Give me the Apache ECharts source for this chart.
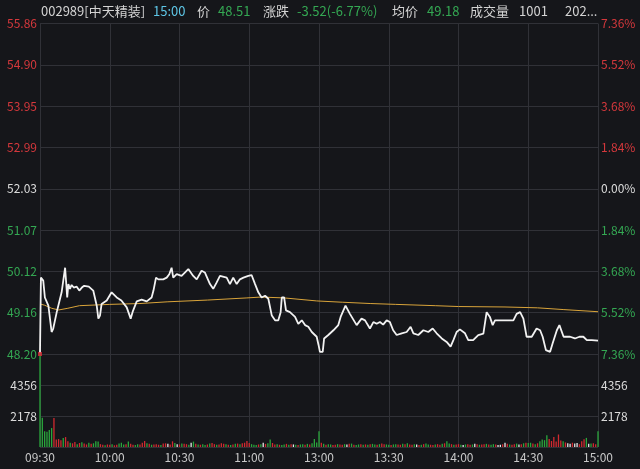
<!DOCTYPE html>
<html>
<head>
<meta charset="utf-8">
<script src="https://cdn.jsdelivr.net/npm/echarts@6/dist/echarts.min.js"></script>
<style>
html,body{margin:0;padding:0;background:#15161a;}
#c{width:640px;height:469px;}
</style>
</head>
<body>
<div id="c"></div>
<script>
// ---- data ----
const timeLabels = ['09:30','10:00','10:30','11:00','13:00','13:30','14:00','14:30','15:00'];
const priceTicks = ['48.20','49.16','50.12','51.07','52.03','52.99','53.95','54.90','55.86'];
const pctTicks = ['7.36%','5.52%','3.68%','1.84%','0.00%','1.84%','3.68%','5.52%','7.36%'];
const volTicks = [0, 2178, 4356, 6534];

const priceMinutes = [0,0.4,1.4,2.1,3.6,5.0,5.7,7.2,9.3,10.8,11.5,11.7,12.2,12.9,13.6,14.5,15.8,16.9,18.0,19.0,21.0,22.9,24.4,25.1,25.8,26.5,28.7,30.8,33.0,35.0,37.3,39.0,40.0,41.6,43.7,45.9,48.0,48.8,49.9,50.9,53.0,54.5,55.6,56.6,57.3,58.8,60.9,62.4,63.8,65.9,67.4,69.5,70.9,73.1,74.5,76.0,77.4,80.3,81.7,83.1,84.6,86.0,87.5,89.6,91.0,92.5,93.9,95.3,96.8,98.2,98.9,99.7,101.1,102.5,103.5,104.0,105.0,105.8,107.5,109.7,111.1,112.6,114.0,115.4,116.9,119.0,119.8,120.4,121.6,122.2,124.0,126.2,128.3,129.3,131.4,133.3,136.2,138.3,139.8,141.9,143.4,144.8,146.2,147.6,149.1,150.5,151.9,153.4,155.6,157.7,159.4,160.6,162.7,164.9,167.0,168.9,170.6,172.8,174.9,176.6,177.8,179.2,180.6,182.8,184.2,186.3,188.5,190.7,192.1,193.5,194.7,195.7,203.6,205.0,206.5,207.9,209.3,211.5,213.6,215.1,216.2,217.6,219.4,220.5,222.3,223.4,225.2,228.0,230.1,232.0,233.7,235.2,237.3,240.0];
const priceValues = [48.22,49.97,49.90,49.51,49.32,48.71,48.79,49.17,49.63,50.20,50.18,49.51,49.82,49.71,49.80,49.74,49.76,49.67,49.74,49.78,49.76,49.67,49.32,49.02,49.09,49.36,49.44,49.63,49.51,49.44,49.28,49.02,49.20,49.42,49.46,49.42,49.51,49.67,49.97,49.93,49.93,49.97,50.05,50.20,49.97,50.05,50.01,50.09,50.17,50.01,49.93,50.13,50.09,49.82,49.71,49.86,50.01,49.97,49.82,49.97,49.82,49.93,49.97,50.01,50.03,49.82,49.63,49.51,49.55,49.48,49.44,49.09,48.98,48.98,49.17,49.51,49.51,49.21,49.17,49.06,48.90,48.98,48.87,48.83,48.71,48.60,48.41,48.25,48.25,48.56,48.64,48.75,48.87,49.06,49.32,49.13,48.87,49.02,48.98,48.79,48.94,48.90,48.94,48.88,48.98,48.94,48.75,48.64,48.68,48.71,48.83,48.68,48.64,48.75,48.71,48.79,48.68,48.56,48.48,48.37,48.52,48.71,48.77,48.68,48.52,48.52,48.64,48.67,49.17,49.06,48.87,48.98,48.98,49.13,49.17,49.02,48.60,48.60,48.79,48.75,48.60,48.29,48.25,48.45,48.75,48.87,48.60,48.60,48.56,48.60,48.60,48.52,48.52,48.51];

const avgMinutes = [0,2,5,8,12,17,30,43,55,72,89,95,105,119,130,142,153,170,180,200,214,225,240];
const avgValues = [49.36,49.33,49.26,49.22,49.26,49.32,49.35,49.37,49.41,49.45,49.50,49.52,49.50,49.43,49.40,49.37,49.35,49.32,49.30,49.29,49.27,49.23,49.18];

const volumes = [
7000,2050,1100,1080,1200,1330,2040,520,560,470,
640,700,400,300,260,350,200,280,330,250,
180,300,220,260,400,380,200,150,120,180,
150,200,120,160,250,300,180,200,380,220,
160,140,200,180,300,420,260,220,160,180,
200,160,140,240,260,220,180,400,280,200,
180,240,220,200,150,300,380,220,180,160,
200,140,180,240,280,200,160,180,260,220,
200,160,140,180,220,240,200,260,300,420,
280,200,160,140,180,200,300,220,260,520,
280,180,200,160,140,180,220,160,200,180,
160,140,180,200,160,220,180,260,560,320,
1100,300,220,160,200,180,140,160,200,180,
160,200,180,220,240,160,140,180,200,160,
180,160,200,220,180,160,200,240,200,180,
160,140,180,200,180,160,220,200,260,180,
160,200,180,140,160,200,240,180,160,140,
180,200,160,220,260,400,240,200,160,180,
200,160,140,180,200,160,180,220,200,160,
180,200,220,180,160,200,180,140,160,200,
300,220,180,160,200,240,180,200,260,300,
280,300,240,200,260,400,520,480,820,560,
420,700,380,880,460,400,320,260,220,300,
240,280,200,400,540,640,220,240,260,200,
1100];
// r = up, g = down, w = flat
const volDirs = (
'ggggggrrrr'+'grrgrrgrgr'+'rgrgggrrgr'+'rgrrgggrgr'+'rggrrrgrgr'+
'rrgrrwrrgw'+'rgrrgwgrgr'+'ggrgrrgrrr'+'grgrgrgrrr'+'rgggrgwrgg'+
'rrgrggrgrw'+'grggrgrggg'+'grgrggrrgr'+'rgwrgrggrg'+'rgrggrgrrg'+
'grggrrgrgr'+'rgwrgrggrr'+'grrgrggrgr'+'rgwgrrgwrg'+'rrgrggrwwr'+
'wrgrrgwrgr'+'ggrgrggggr'+'rrrrrgrwwr'+'wwrrrgwgrr'+'g').split('');
const openMarker = [0, 48.20];

// ---- chart ----
const BG = '#15161a';
const GRIDC = '#303137';
const RED = '#d5383c';
const GREEN = '#34a853';
const WHITE = '#dcdcdc';
const dirColor = {r: '#d02a30', g: '#2aa63c', w: '#e6e6e6'};

const chart = echarts.init(document.getElementById('c'), null, {renderer: 'canvas'});

const priceData = priceMinutes.map((m, i) => [m, priceValues[i]]);
const avgData = avgMinutes.map((m, i) => [m, avgValues[i]]);
const volData = volumes.map((v, i) => ({value: [i, v], itemStyle: {color: dirColor[volDirs[i]]}}));

const labelColor = (i) => i < 4 ? GREEN : (i === 4 ? WHITE : RED);
const FONT = '"Noto Sans CJK SC", "Noto Sans", sans-serif';

const header = [
  {x: 41, t: '002989[中天精装]', c: '#d4d4d4'},
  {x: 153, t: '15:00', c: '#5ec6e6'},
  {x: 197, t: '价', c: '#d4d4d4'},
  {x: 218, t: '48.51', c: GREEN},
  {x: 263, t: '涨跌', c: '#d4d4d4'},
  {x: 297, t: '-3.52(-6.77%)', c: GREEN},
  {x: 392, t: '均价', c: '#d4d4d4'},
  {x: 427, t: '49.18', c: GREEN},
  {x: 470, t: '成交量', c: '#d4d4d4'},
  {x: 519, t: '1001', c: '#d4d4d4'},
  {x: 565, t: '202...', c: '#d4d4d4'}
];

const graphics = [{
  type: 'rect', left: 0, top: 0, z: 100,
  shape: {width: 640, height: 19},
  style: {fill: BG}
}].concat(header.map(h => ({
  type: 'text', left: h.x, top: 5, z: 101,
  style: {text: h.t, fill: h.c, font: '13px ' + FONT}
})));

const option = {
  backgroundColor: BG,
  animation: false,
  textStyle: {fontFamily: FONT},
  graphic: graphics,
  grid: [
    {left: 40, right: 42, top: 23.5, height: 330.5},
    {left: 40, right: 42, top: 354, height: 93}
  ],
  xAxis: [
    {type: 'value', gridIndex: 0, min: 0, max: 240, interval: 30,
     axisLabel: {show: false}, axisLine: {show: false}, axisTick: {show: false},
     splitLine: {show: true, lineStyle: {color: GRIDC, width: 1}}},
    {type: 'value', gridIndex: 1, min: 0, max: 240, interval: 30,
     axisLabel: {show: true, color: '#c8c8c8', fontSize: 12, margin: 4,
       formatter: v => timeLabels[Math.round(v / 30)]},
     axisLine: {show: false}, axisTick: {show: false},
     splitLine: {show: true, lineStyle: {color: GRIDC, width: 1}}}
  ],
  yAxis: [
    {type: 'value', gridIndex: 0, position: 'left', min: 0, max: 8, interval: 1,
     axisLine: {show: false}, axisTick: {show: false},
     axisLabel: {fontSize: 12, margin: 3, formatter: v => priceTicks[v], color: (v, idx) => labelColor(idx)},
     splitLine: {show: true, lineStyle: {color: GRIDC, width: 1}}},
    {type: 'value', gridIndex: 0, position: 'right', min: 0, max: 8, interval: 1,
     axisLine: {show: false}, axisTick: {show: false},
     axisLabel: {fontSize: 12, margin: 3, formatter: v => pctTicks[v], color: (v, idx) => labelColor(idx)},
     splitLine: {show: false}},
    {type: 'value', gridIndex: 0, min: 48.20, max: 55.86, show: false, splitLine: {show: false}},
    {type: 'value', gridIndex: 1, position: 'left', min: 0, max: 6534, interval: 2178,
     axisLine: {show: false}, axisTick: {show: false},
     axisLabel: {fontSize: 12, margin: 3, color: WHITE,
       formatter: v => (v === volTicks[0] || v === volTicks[3]) ? '' : String(v)},
     splitLine: {show: true, lineStyle: {color: GRIDC, width: 1}}},
    {type: 'value', gridIndex: 1, position: 'right', min: 0, max: 6534, interval: 2178,
     axisLine: {show: false}, axisTick: {show: false},
     axisLabel: {fontSize: 12, margin: 3, color: WHITE,
       formatter: v => (v === volTicks[0] || v === volTicks[3]) ? '' : String(v)},
     splitLine: {show: false}}
  ],
  series: [
    {type: 'bar', xAxisIndex: 1, yAxisIndex: 3, data: volData, barWidth: 1.3,
     clip: true, silent: true},
    {type: 'line', xAxisIndex: 0, yAxisIndex: 2, data: avgData, showSymbol: false,
     lineStyle: {color: '#d9a43a', width: 1}, z: 3, silent: true},
    {type: 'line', xAxisIndex: 0, yAxisIndex: 2, data: priceData, showSymbol: false,
     lineStyle: {color: '#f2f2f2', width: 1.8}, z: 4, silent: true},
    {type: 'scatter', xAxisIndex: 0, yAxisIndex: 2, data: [openMarker], symbol: 'rect',
     symbolSize: 4, itemStyle: {color: '#e0303a'}, z: 5, silent: true}
  ]
};
chart.setOption(option);
</script>
</body>
</html>
